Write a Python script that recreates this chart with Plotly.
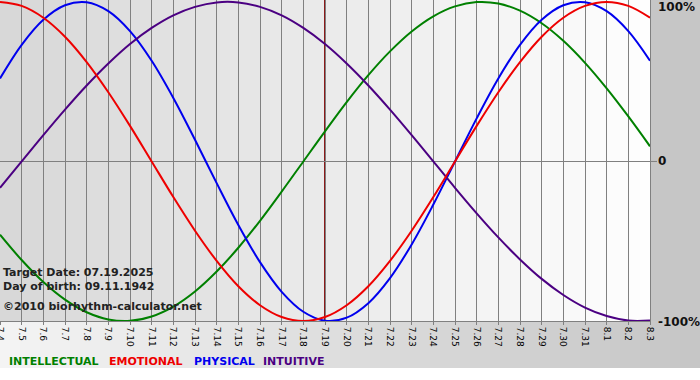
import plotly.graph_objects as go

dates = ["7.4", "7.5", "7.6", "7.7", "7.8", "7.9", "7.10", "7.11", "7.12", "7.13",
         "7.14", "7.15", "7.16", "7.17", "7.18", "7.19", "7.20", "7.21", "7.22", "7.23",
         "7.24", "7.25", "7.26", "7.27", "7.28", "7.29", "7.30", "7.31", "8.1", "8.2", "8.3"]

intellectual = [-0.459, -0.618, -0.756, -0.866, -0.945, -0.990, -0.999, -0.972, -0.910, -0.815,
                -0.690, -0.541, -0.372, -0.189, 0.000, 0.189, 0.372, 0.541, 0.690, 0.815,
                0.910, 0.972, 0.999, 0.990, 0.945, 0.866, 0.756, 0.618, 0.458, 0.282, 0.095]
emotional = [1.000, 0.975, 0.901, 0.782, 0.623, 0.434, 0.223, 0.000, -0.223, -0.434,
             -0.623, -0.782, -0.901, -0.975, -1.000, -0.975, -0.901, -0.782, -0.623, -0.434,
             -0.223, 0.000, 0.223, 0.434, 0.623, 0.782, 0.901, 0.975, 1.000, 0.975, 0.901]
physical = [0.520, 0.731, 0.888, 0.979, 0.998, 0.942, 0.817, 0.631, 0.398, 0.136,
            -0.136, -0.398, -0.631, -0.817, -0.942, -0.998, -0.979, -0.888, -0.731, -0.520,
            -0.270, 0.000, 0.270, 0.520, 0.731, 0.888, 0.979, 0.998, 0.942, 0.817, 0.631]
intuitive = [-0.165, 0.000, 0.165, 0.325, 0.476, 0.614, 0.736, 0.837, 0.916, 0.969,
             0.997, 0.997, 0.969, 0.916, 0.837, 0.736, 0.614, 0.476, 0.325, 0.165,
             0.000, -0.165, -0.325, -0.476, -0.614, -0.736, -0.837, -0.916, -0.969, -0.997, -0.997]

target_date = "7.19"
y_tick_vals = [1, 0, -1]
y_tick_text = ["100%", "0", "-100%"]
info_lines = ["Target Date: 07.19.2025", "Day of birth: 09.11.1942", "©2010 biorhythm-calculator.net"]
legend_names = ["INTELLECTUAL", "EMOTIONAL", "PHYSICAL", "INTUITIVE"]

GREEN, RED, BLUE, PURPLE = "#008000", "#ee0000", "#0000ee", "#4b0082"
FONT = "DejaVu Sans"

W, H = 700, 380
PL, PR, PT, PB = 0, 50, 0, 59
pw, ph = W - PL - PR, H - PT - PB
xi = list(range(len(dates)))

fig = go.Figure()
series = [(intellectual, GREEN), (physical, BLUE), (intuitive, PURPLE), (emotional, RED)]
for vals, col in series:
    fig.add_trace(go.Scatter(x=xi, y=vals, mode="lines",
                             line=dict(color=col, width=2, shape="spline", smoothing=1),
                             showlegend=False, hoverinfo="skip"))

shapes = []
# plot area gradient
N = 65
for k in range(N):
    t = k / (N - 1)
    c = int(216 + (254 - 216) * t)
    shapes.append(dict(type="rect", xref="paper", yref="paper", x0=k / N, x1=(k + 1) / N + 0.002,
                       y0=0, y1=1, fillcolor=f"rgb({c},{c},{c})", line=dict(width=0), layer="below"))
# bottom strip gradient
bot = -47 / ph
xr = W / pw
M = 70
for k in range(M):
    t = k / (M - 1)
    c = int(244 + (198 - 244) * t)
    shapes.append(dict(type="rect", xref="paper", yref="paper", x0=xr * k / M, x1=xr * (k + 1) / M + 0.002,
                       y0=bot, y1=0, fillcolor=f"rgb({c},{c},{c})", line=dict(width=0), layer="below"))
# right strip
shapes.append(dict(type="rect", xref="paper", yref="paper", x0=1, x1=xr, y0=0, y1=1.01,
                   fillcolor="rgb(198,198,198)", line=dict(width=0), layer="below"))
# zero tick extension
shapes.append(dict(type="line", xref="paper", yref="y", x0=1, x1=1 + 7 / pw, y0=0, y1=0,
                   line=dict(color="#808080", width=1)))
# target line
tx = dates.index(target_date)
shapes.append(dict(type="line", xref="x", yref="paper", x0=tx, x1=tx, y0=0, y1=1,
                   line=dict(color="#8b1a1a", width=2), layer="between"))

annotations = []
for val, txt in zip(y_tick_vals, y_tick_text):
    yshift = -5 if val == 1 else (-1 if val == -1 else 0)
    annotations.append(dict(xref="paper", yref="y", x=1, y=val, xanchor="left", yanchor="middle",
                            xshift=6, yshift=yshift, text=txt, showarrow=False,
                            font=dict(family=FONT, size=12, color="#111111", weight="bold")))
info_y = [272.5, 286.5, 306.5]
for txt, py in zip(info_lines, info_y):
    annotations.append(dict(xref="paper", yref="paper", x=0, y=1 - py / ph, xanchor="left", yanchor="middle",
                            xshift=1, text=txt, showarrow=False,
                            font=dict(family=FONT, size=11, color="#222222", weight="bold")))
leg_x = [7, 107, 192, 261]
for txt, lx, col in zip(legend_names, leg_x, [GREEN, RED, BLUE, PURPLE]):
    annotations.append(dict(xref="paper", yref="paper", x=lx / pw, y=1 - 362 / ph, xanchor="left",
                            yanchor="middle", text=txt, showarrow=False,
                            font=dict(family=FONT, size=11, color=col, weight="bold")))

fig.update_layout(
    width=W, height=H,
    margin=dict(l=PL, r=PR, t=PT, b=PB, pad=0, autoexpand=False),
    paper_bgcolor="white", plot_bgcolor="rgba(0,0,0,0)",
    shapes=shapes, annotations=annotations,
    xaxis=dict(range=[0, len(dates) - 1], tickmode="array", tickvals=xi, ticktext=dates,
               tickangle=90, tickfont=dict(family=FONT, size=9, color="#000000"),
               ticklabeloverflow="allow", automargin=False,
               showgrid=True, gridcolor="#808080", gridwidth=1,
               ticks="outside", ticklen=3, tickcolor="#808080",
               showline=True, linecolor="#808080", linewidth=1, zeroline=False, fixedrange=True),
    yaxis=dict(range=[-1.0, 1.012], side="right", tickvals=[], showgrid=False, automargin=False,
               zeroline=True, zerolinecolor="#808080", zerolinewidth=1,
               showline=True, linecolor="#808080", linewidth=1, fixedrange=True),
)

fig.write_html("out.html")
